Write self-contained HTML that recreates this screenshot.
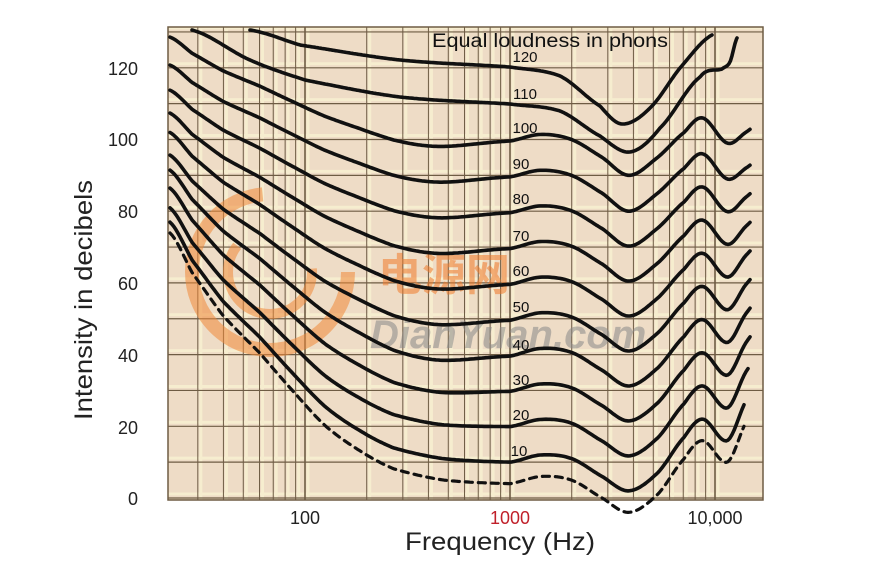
<!DOCTYPE html>
<html><head><meta charset="utf-8"><style>
html,body{margin:0;padding:0;background:#fff;width:880px;height:562px;overflow:hidden}
svg text{font-family:"Liberation Sans",sans-serif}
</style></head><body>
<svg id="s" width="880" height="562" viewBox="0 0 880 562" xmlns="http://www.w3.org/2000/svg">
<rect x="168" y="27" width="595" height="473" fill="#eedcc6"/>
<g id="grid"></g>
<g opacity="0.55">
<circle cx="270" cy="272" r="78" fill="none" stroke="#f08a3a" stroke-width="14" stroke-dasharray="360 130"/>
<circle cx="270" cy="272" r="42" fill="none" stroke="#f08a3a" stroke-width="10" stroke-dasharray="160 100"/>
<text x="378" y="290" font-size="44" font-weight="bold" fill="#f07a2a" style="font-family:'Liberation Sans','Noto Sans CJK SC',sans-serif">电源网</text>
<text x="370" y="348" font-size="40" font-weight="bold" font-style="italic" fill="#8a8a8a">DianYuan.com</text>
</g>
<g id="curves" fill="none" stroke="#111" stroke-width="3.6" stroke-linecap="round" stroke-linejoin="round"></g>
<g font-size="15" fill="#111" text-anchor="middle">
<text x="525" y="62">120</text><text x="525" y="99">110</text><text x="525" y="133">100</text>
<text x="521" y="169">90</text><text x="521" y="204">80</text><text x="521" y="241">70</text>
<text x="521" y="276">60</text><text x="521" y="312">50</text><text x="521" y="350">40</text>
<text x="521" y="385">30</text><text x="521" y="420">20</text><text x="519" y="456">10</text>
</g>
<text x="432" y="47" font-size="19" fill="#111" textLength="236" lengthAdjust="spacingAndGlyphs">Equal loudness in phons</text>
<g font-size="18" fill="#222" text-anchor="end">
<text x="138" y="75">120</text><text x="138" y="146">100</text><text x="138" y="218">80</text>
<text x="138" y="290">60</text><text x="138" y="362">40</text><text x="138" y="434">20</text><text x="138" y="505">0</text>
</g>
<g font-size="18" text-anchor="middle">
<text x="305" y="524" fill="#222">100</text>
<text x="510" y="524" fill="#c0202a">1000</text>
<text x="715" y="524" fill="#222">10,000</text>
</g>
<text x="405" y="550" font-size="25" fill="#222" textLength="190" lengthAdjust="spacingAndGlyphs">Frequency (Hz)</text>
<text transform="translate(92,420) rotate(-90)" font-size="25" fill="#222" textLength="240" lengthAdjust="spacingAndGlyphs">Intensity in decibels</text>
</svg>
<script>
var NS="http://www.w3.org/2000/svg";
function el(p,t,a){var e=document.createElementNS(NS,t);for(var k in a)e.setAttribute(k,a[k]);p.appendChild(e);return e;}
function X(f){return 510+205*Math.log10(f/1000);}
function Y(d){return 498-d*3.585;}
var g=document.getElementById('grid');
for(var dec=10;dec<=10000;dec*=10)for(var m=1;m<10;m++){var f=dec*m;var x=X(f);if(x<168||x>763)continue;
 el(g,'line',{x1:x+3,y1:27,x2:x+3,y2:500,stroke:'#f6edcf','stroke-width':3});}
for(var d=0;d<=130;d+=10){var y=Y(d);el(g,'line',{x1:168,y1:y-4,x2:763,y2:y-4,stroke:'#f6edcf','stroke-width':3});}
for(var dec=10;dec<=10000;dec*=10)for(var m=1;m<10;m++){var f=dec*m;var x=X(f);if(x<168||x>763)continue;
 el(g,'line',{x1:x,y1:27,x2:x,y2:500,stroke:'#6e5c44','stroke-width':m==1?1.6:1});}
for(var d=0;d<=130;d+=10){var y=Y(d);el(g,'line',{x1:168,y1:y,x2:763,y2:y,stroke:'#6e5c44','stroke-width':1.2});}
el(g,'rect',{x:168,y:27,width:595,height:473,fill:'none',stroke:'#6e5c44','stroke-width':1.5});
function cr(xs,ys,x){var n=xs.length;if(x<=xs[0])return ys[0];if(x>=xs[n-1])return ys[n-1];
 var i=0;while(x>xs[i+1])i++;var t=(x-xs[i])/(xs[i+1]-xs[i]);
 var p0=ys[Math.max(i-1,0)],p1=ys[i],p2=ys[i+1],p3=ys[Math.min(i+2,n-1)];
 return 0.5*((2*p1)+(-p0+p2)*t+(2*p0-5*p1+4*p2-p3)*t*t+(-p0+3*p1-3*p2+p3)*t*t*t);}
var gu=[1.34,1.45,1.6,1.78,1.94,2.1,2.27,2.43,2.67,3.0,3.2],gv=[1,.84,.67,.52,.37,.23,.13,.06,.015,0,0];
var hu=[2.8,3.0,3.15,3.3,3.45,3.58,3.72,3.85,3.94,4.06,4.15,4.25];
var hl=[0,0,2,1,-4,-8,-3,7,12,6,17,25];
var hh=[0,0,1.5,0,-5,-10,-5,2,6,-1,2,6];
var cg=document.getElementById('curves');
function curve(P,L,xend,dash){var pts=[];
 var D=Math.min(2.5,Math.max(0,(P-15)*0.1));
 for(var x=170;x<=xend;x+=2){var u=3+(x-510)/205;var w=Math.min(1,Math.max(0,(P-10)/80));
  var h=(1-w)*cr(hu,hl,u)+w*cr(hu,hh,u);
  var dip=D*Math.exp(-Math.pow((u-2.6)/0.3,2));
  var d=P+L*Math.max(0,cr(gu,gv,u))+(u>3?h:0)-dip;
  pts.push(x.toFixed(1)+','+Y(d).toFixed(1));}
 var a={points:pts.join(' ')};if(dash){a['stroke-dasharray']='7 6';a['stroke-width']=3.2;}
 el(cg,'polyline',a);}
var L={10:67,20:61,30:56.5,40:51.5,50:45.7,60:42,70:37.4,80:33.8,90:30.8,100:28.6};
curve(4,70,745,true);
for(var P=10;P<=100;P+=10)curve(P,L[P],P==10?745:(P==20?748:751),false);
function manual(p){var xs=p.map(function(q){return q[0]}),ys=p.map(function(q){return q[1]});var pts=[];
 for(var x=xs[0];x<=xs[xs.length-1];x+=1.5)pts.push(x+','+cr(xs,ys,x).toFixed(1));
 pts.push(xs[xs.length-1]+','+ys[ys.length-1]);el(cg,'polyline',{points:pts.join(' ')});}
manual([[250,30],[300,45],[400,60],[510,67],[560,76],[600,106],[622,124],[650,108],[680,68],[712,35]]);
manual([[192,30],[250,60],[305,80],[400,97],[510,104],[560,111],[600,136],[630,152],[660,128],[700,77],[722,69],[730,62],[737,38]]);
</script>
</body></html>
